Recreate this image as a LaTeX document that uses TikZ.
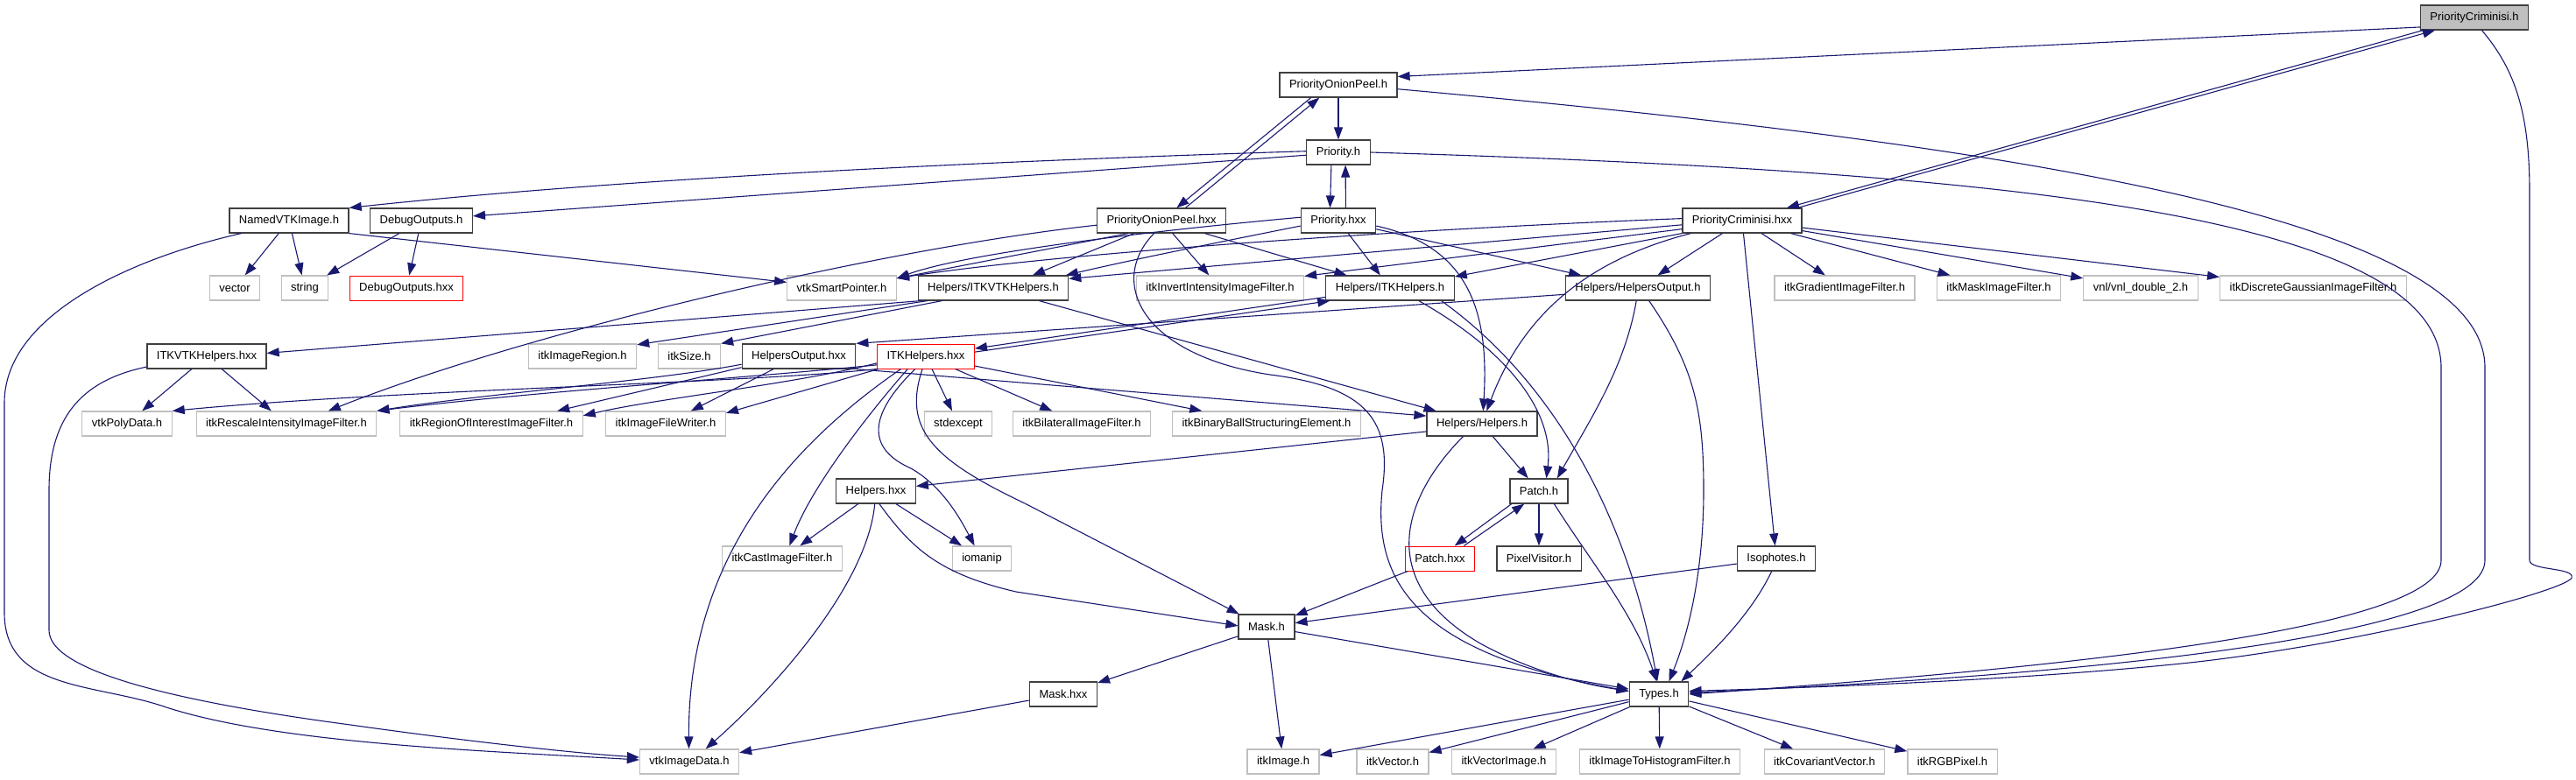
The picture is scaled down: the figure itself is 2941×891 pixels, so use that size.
\documentclass[tikz,border=0pt]{standalone}
\usepackage{fontspec}
\setmainfont{Liberation Sans}
\usetikzlibrary{arrows.meta}
\definecolor{edgeblue}{HTML}{191970}
\definecolor{boxgray}{HTML}{BFBFBF}
\definecolor{boxdark}{HTML}{404040}

\begin{document}
\begin{tikzpicture}[x=1pt,y=-1pt,>={Triangle[length=14pt,width=10pt]},
  box/.style={font=\fontsize{13}{15}\selectfont,inner xsep=11pt,inner ysep=0pt,minimum height=28pt,line width=1.2pt,fill=white},
  file/.style={box,draw=boxdark},
  ext/.style={box,draw=boxgray},
  bad/.style={box,draw=red,line width=1pt},
  root/.style={box,draw=boxdark,fill=boxgray},
  dep/.style={->,draw=edgeblue,line width=1.1pt}]
  \useasboundingbox (0,0) rectangle (2941,891);

  \node[root] (pcrimh) at (2825,20) {PriorityCriminisi.h};
  \node[file] (onionh) at (1528,97) {PriorityOnionPeel.h};
  \node[file] (prioh) at (1528,174) {Priority.h};
  \node[file] (namedvtk) at (330,252) {NamedVTKImage.h};
  \node[file] (dbgh) at (481,252) {DebugOutputs.h};
  \node[file] (onionhxx) at (1326,252) {PriorityOnionPeel.hxx};
  \node[file] (priohxx) at (1528,252) {Priority.hxx};
  \node[file] (pcrimhxx) at (1989,252) {PriorityCriminisi.hxx};
  \node[ext] (vector) at (268,329) {vector};
  \node[ext] (string) at (348,329) {string};
  \node[bad] (dbghxx) at (464,329) {DebugOutputs.hxx};
  \node[ext] (vtksmart) at (961,329) {vtkSmartPointer.h};
  \node[file] (itkvtkh) at (1134,329) {Helpers/ITKVTKHelpers.h};
  \node[ext] (invert) at (1393,329) {itkInvertIntensityImageFilter.h};
  \node[file] (itkh) at (1587,329) {Helpers/ITKHelpers.h};
  \node[file] (outh) at (1870,329) {Helpers/HelpersOutput.h};
  \node[ext] (gradient) at (2106,329) {itkGradientImageFilter.h};
  \node[ext] (maskfilt) at (2282,329) {itkMaskImageFilter.h};
  \node[ext] (vnl) at (2444,329) {vnl/vnl\_double\_2.h};
  \node[ext] (gauss) at (2641,329) {itkDiscreteGaussianImageFilter.h};
  \node[file] (itkvtkhxx) at (236,407) {ITKVTKHelpers.hxx};
  \node[ext] (region) at (665,407) {itkImageRegion.h};
  \node[ext] (size) at (787,407) {itkSize.h};
  \node[file] (outhxx) at (912,407) {HelpersOutput.hxx};
  \node[bad] (itkhxx) at (1057,407) {ITKHelpers.hxx};
  \node[ext] (polydata) at (145,484) {vtkPolyData.h};
  \node[ext] (rescale) at (327,484) {itkRescaleIntensityImageFilter.h};
  \node[ext] (roi) at (561,484) {itkRegionOfInterestImageFilter.h};
  \node[ext] (writer) at (760,484) {itkImageFileWriter.h};
  \node[ext] (stdexc) at (1094,484) {stdexcept};
  \node[ext] (bilateral) at (1235,484) {itkBilateralImageFilter.h};
  \node[ext] (ballelem) at (1446,484) {itkBinaryBallStructuringElement.h};
  \node[file] (helph) at (1692,484) {Helpers/Helpers.h};
  \node[file] (helphxx) at (1000,561) {Helpers.hxx};
  \node[file] (patchh) at (1757,561) {Patch.h};
  \node[ext] (cast) at (893,638) {itkCastImageFilter.h};
  \node[ext] (iomanip) at (1121,638) {iomanip};
  \node[bad] (patchhxx) at (1644,638) {Patch.hxx};
  \node[file] (pixvis) at (1757,638) {PixelVisitor.h};
  \node[file] (isoph) at (2028,638) {Isophotes.h};
  \node[file] (maskh) at (1446,716) {Mask.h};
  \node[file] (maskhxx) at (1214,793) {Mask.hxx};
  \node[file] (typesh) at (1894,793) {Types.h};
  \node[ext] (imgdata) at (787,870) {vtkImageData.h};
  \node[ext] (itkimage) at (1465,870) {itkImage.h};
  \node[ext] (itkvec) at (1590,870) {itkVector.h};
  \node[ext] (vecimage) at (1717,870) {itkVectorImage.h};
  \node[ext] (histo) at (1895,870) {itkImageToHistogramFilter.h};
  \node[ext] (covvec) at (2083,870) {itkCovariantVector.h};
  \node[ext] (rgbpix) at (2229,870) {itkRGBPixel.h};

  \draw[dep] (pcrimh.-170) -- (onionh.8);
  \draw[dep] (pcrimh.-166) -- (pcrimhxx.16);
  \draw[dep] (pcrimhxx.13) -- (pcrimh.-162);
  \draw[dep] (pcrimh.-60) .. controls (2872,80) and (2888,130) .. (2888,220) -- (2888,640)
    .. controls (2888,652) and (2940,648) .. (2936,660) .. controls (2930,675) and (2700,735) .. (2500,757)
    .. controls (2300,778) and (2050,786) .. (typesh.6);
  \draw[dep] (onionh) -- (prioh);
  \draw[dep] (onionh.-155) -- (onionhxx.40);
  \draw[dep] (onionhxx.28) -- (onionh.-146);
  \draw[dep] (onionh.-4) .. controls (2300,165) and (2837,250) .. (2837,420) -- (2837,640)
    .. controls (2837,720) and (2450,768) .. (typesh.3);
  \draw[dep] (prioh.178) .. controls (1100,185) and (700,205) .. (namedvtk.north east);
  \draw[dep] (prioh.-175) -- (dbgh.5);
  \draw[dep] (prioh.-119) -- (priohxx.123);
  \draw[dep] (priohxx.60) -- (prioh.-61);
  \draw[dep] (prioh.east) .. controls (2250,195) and (2787,240) .. (2787,420) -- (2787,640)
    .. controls (2787,715) and (2400,760) .. (typesh.0);
  \draw[dep] (onionhxx.-159) -- (vtksmart.10);
  \draw[dep] (onionhxx.-155) -- (itkvtkh.18);
  \draw[dep] (onionhxx) -- (invert);
  \draw[dep] (onionhxx) -- (itkh);
  \draw[dep] (onionhxx.-176) .. controls (1000,285) and (600,380) .. (rescale.17);
  \draw[dep] (onionhxx.-120) .. controls (1265,320) and (1300,405) .. (1450,428)
    .. controls (1560,442) and (1590,480) .. (1578,560) .. controls (1568,660) and (1610,745) .. (typesh.174);
  \draw[dep] (priohxx.175) .. controls (1300,265) and (1100,290) .. (vtksmart.10);
  \draw[dep] (priohxx.-172) .. controls (1400,275) and (1300,295) .. (itkvtkh.10);
  \draw[dep] (priohxx) -- (itkh);
  \draw[dep] (priohxx) -- (outh);
  \draw[dep] (priohxx.-8) .. controls (1680,282) and (1700,360) .. (helph.85);
  \draw[dep] (pcrimhxx.178) .. controls (1600,262) and (1200,290) .. (vtksmart.10);
  \draw[dep] (pcrimhxx.-176) -- (itkvtkh.7);
  \draw[dep] (pcrimhxx.-172) -- (invert.8);
  \draw[dep] (pcrimhxx.-168) -- (itkh.10);
  \draw[dep] (pcrimhxx.-166) .. controls (1800,300) and (1735,370) .. (helph.70);
  \draw[dep] (pcrimhxx) -- (outh);
  \draw[dep] (pcrimhxx) -- (isoph);
  \draw[dep] (pcrimhxx) -- (gradient);
  \draw[dep] (pcrimhxx) -- (maskfilt);
  \draw[dep] (pcrimhxx) -- (vnl);
  \draw[dep] (pcrimhxx) -- (gauss);
  \draw[dep] (namedvtk) -- (vector);
  \draw[dep] (namedvtk) -- (string);
  \draw[dep] (namedvtk.south east) -- (vtksmart.174);
  \draw[dep] (namedvtk.-165) .. controls (150,295) and (5,360) .. (5,460) -- (5,700)
    .. controls (5,790) and (110,780) .. (190,808) .. controls (320,850) and (560,858) .. (imgdata.178);
  \draw[dep] (dbgh) -- (string);
  \draw[dep] (dbgh) -- (dbghxx);
  \draw[dep] (itkvtkh.-170) -- (itkvtkhxx.3);
  \draw[dep] (itkvtkh.-169) -- (region.12);
  \draw[dep] (itkvtkh.-166) -- (size.north east);
  \draw[dep] (itkvtkh) -- (helph);
  \draw[dep] (itkh.-172) -- (itkhxx.9);
  \draw[dep] (itkhxx.5) -- (itkh.-168);
  \draw[dep] (itkh.-24) .. controls (1720,400) and (1775,470) .. (patchh.60);
  \draw[dep] (itkh.-14) .. controls (1780,440) and (1860,600) .. (typesh.97);
  \draw[dep] (outh.-175) -- (outhxx.north east);
  \draw[dep] (outh.-97) .. controls (1855,420) and (1815,480) .. (patchh.35);
  \draw[dep] (outh.-49) .. controls (1935,420) and (1945,470) .. (1945,560)
    .. controls (1945,660) and (1925,730) .. (typesh.52);
  \draw[dep] (itkvtkhxx) -- (polydata);
  \draw[dep] (itkvtkhxx) -- (rescale);
  \draw[dep] (itkvtkhxx.-170) .. controls (90,435) and (56,480) .. (56,560) -- (56,720)
    .. controls (56,765) and (190,800) .. (400,828) .. controls (520,845) and (650,860) .. (imgdata.175);
  \draw[dep] (outhxx.-172) .. controls (750,435) and (550,450) .. (rescale.north east);
  \draw[dep] (outhxx.-169) -- (roi.11);
  \draw[dep] (outhxx) -- (writer);
  \draw[dep] (outhxx.south east) -- (helph.172);
  \draw[dep] (itkhxx.south west) .. controls (850,438) and (450,445) .. (polydata.north east);
  \draw[dep] (itkhxx.-170) .. controls (850,432) and (600,448) .. (rescale.north east);
  \draw[dep] (itkhxx.-172) .. controls (900,440) and (750,455) .. (roi.5);
  \draw[dep] (itkhxx.-165) -- (writer.10);
  \draw[dep] (itkhxx) -- (stdexc);
  \draw[dep] (itkhxx) -- (bilateral);
  \draw[dep] (itkhxx) -- (ballelem);
  \draw[dep] (itkhxx.-145) .. controls (985,480) and (925,560) .. (cast.60);
  \draw[dep] (itkhxx.-153) .. controls (900,510) and (785,640) .. (imgdata.92);
  \draw[dep] (itkhxx.-130) .. controls (985,480) and (995,515) .. (1040,535)
    .. controls (1075,555) and (1095,590) .. (iomanip.120);
  \draw[dep] (itkhxx.-105) .. controls (1030,490) and (1065,525) .. (1170,575) -- (maskh.155);
  \draw[dep] (helph.-172) -- (helphxx.7);
  \draw[dep] (helph) -- (patchh);
  \draw[dep] (helph.-146) .. controls (1600,570) and (1570,665) .. (1690,735)
    .. controls (1750,768) and (1810,782) .. (typesh.174);
  \draw[dep] (helphxx) -- (cast);
  \draw[dep] (helphxx) -- (iomanip);
  \draw[dep] (helphxx.-75) .. controls (1040,625) and (1070,655) .. (1160,676) -- (maskh.178);
  \draw[dep] (helphxx.-95) .. controls (990,670) and (880,790) .. (imgdata.38);
  \draw[dep] (patchh.-155) -- (patchhxx.41);
  \draw[dep] (patchhxx.28) -- (patchh.-139);
  \draw[dep] (patchh) -- (pixvis);
  \draw[dep] (patchh.-40) .. controls (1815,640) and (1865,700) .. (typesh.100);
  \draw[dep] (patchhxx) -- (maskh);
  \draw[dep] (isoph) -- (maskh);
  \draw[dep] (isoph.-110) .. controls (2000,700) and (1960,740) .. (typesh.30);
  \draw[dep] (maskh) -- (maskhxx);
  \draw[dep] (maskh) -- (itkimage);
  \draw[dep] (maskh) -- (typesh);
  \draw[dep] (maskhxx) -- (imgdata);
  \draw[dep] (typesh) -- (itkimage);
  \draw[dep] (typesh) -- (itkvec);
  \draw[dep] (typesh) -- (vecimage);
  \draw[dep] (typesh) -- (histo);
  \draw[dep] (typesh) -- (covvec);
  \draw[dep] (typesh) -- (rgbpix);
\end{tikzpicture}
\end{document}
